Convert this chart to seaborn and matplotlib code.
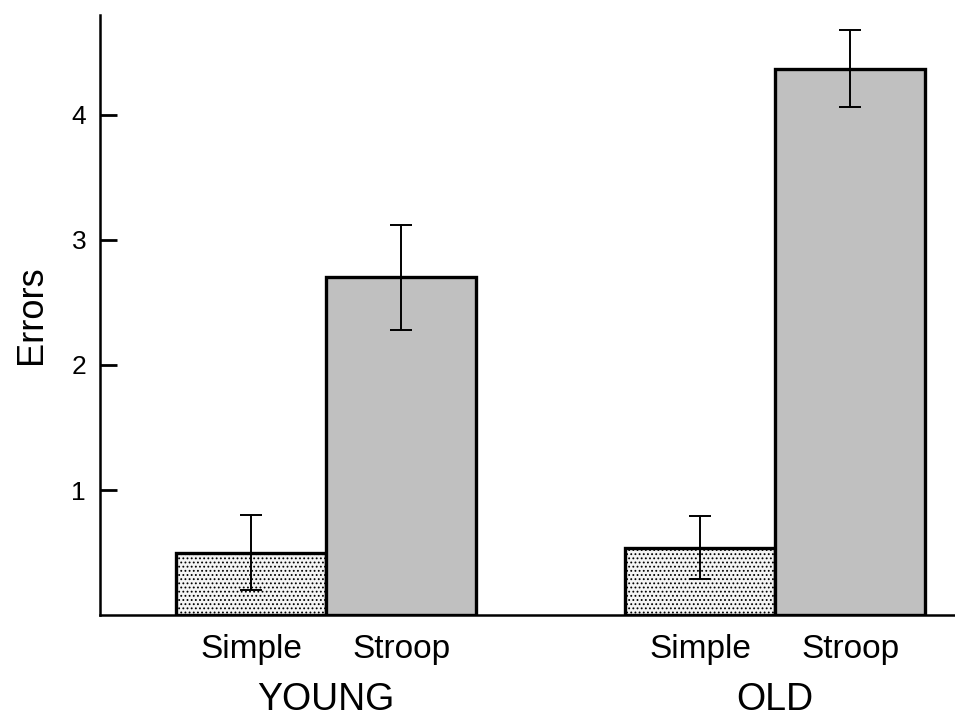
import matplotlib
matplotlib.use("Agg")
import matplotlib.pyplot as plt
import seaborn as sns
import pandas as pd
import numpy as np
from matplotlib.transforms import blended_transform_factory

groups = ["YOUNG", "OLD"]
conditions = ["Simple", "Stroop"]
means_simple = [0.50, 0.54]
means_stroop = [2.70, 4.37]
err_simple = [0.30, 0.25]
err_stroop = [0.42, 0.31]
yticks = [1, 2, 3, 4]

sns.set_theme(style="white")
plt.rcParams["font.family"] = ["Liberation Sans", "DejaVu Sans"]
plt.rcParams["hatch.color"] = "#555555"
plt.rcParams["hatch.linewidth"] = 0.8
plt.rcParams["text.color"] = "black"
plt.rcParams["xtick.color"] = "black"
plt.rcParams["ytick.color"] = "black"
plt.rcParams["axes.labelcolor"] = "black"

rows = []
for i, g in enumerate(groups):
    rows.append({"group": g, "cond": "Simple", "errors": means_simple[i], "err": err_simple[i]})
    rows.append({"group": g, "cond": "Stroop", "errors": means_stroop[i], "err": err_stroop[i]})
df = pd.DataFrame(rows)

fig = plt.figure(figsize=(9.55, 7.18), dpi=100)
ax = fig.add_axes([100/955, 103/718, 1 - 100/955, (615 - 15)/718])

sns.barplot(data=df, x="group", y="errors", hue="cond", order=groups, hue_order=conditions,
            palette={"Simple": "#f4f4f4", "Stroop": "#c0c0c0"}, width=0.668,
            errorbar=None, edgecolor="black", linewidth=2.4, legend=False, ax=ax,
            saturation=1)

centers = []
labels = []
for cond_idx, cond in enumerate(conditions):
    cont = ax.containers[cond_idx]
    sub = df[df["cond"] == cond].set_index("group").loc[groups]
    for bar, (_, r) in zip(cont, sub.iterrows()):
        cx = bar.get_x() + bar.get_width() / 2
        if cond == "Simple":
            bar.set_hatch("....")
        ax.errorbar(cx, r["errors"], yerr=r["err"], color="black", elinewidth=1.4,
                    capsize=8, capthick=1.4, zorder=5)
        centers.append(cx)
        labels.append(cond)

ax.set_xlim(-0.503, 1.40)
ax.set_ylim(0, 4.8)
ax.set_xticks(centers)
ax.set_xticklabels(labels, fontsize=24)
ax.tick_params(axis="x", length=0, pad=14)
ax.set_yticks(yticks)
ax.set_yticklabels([str(t) for t in yticks], fontsize=19)
ax.tick_params(axis="y", direction="in", length=12, width=2, pad=10, left=True)
ax.set_xlabel("")
ax.set_ylabel("Errors", fontsize=26, labelpad=16)

trans = blended_transform_factory(ax.transData, ax.transAxes)
for i, g in enumerate(groups):
    ax.text(i, -0.142, g, transform=trans, ha="center", va="center", fontsize=27)

for s in ["top", "right"]:
    ax.spines[s].set_visible(False)
for s in ["left", "bottom"]:
    ax.spines[s].set_linewidth(1.8)
    ax.spines[s].set_color("black")

fig.savefig("out.png", dpi=100)
